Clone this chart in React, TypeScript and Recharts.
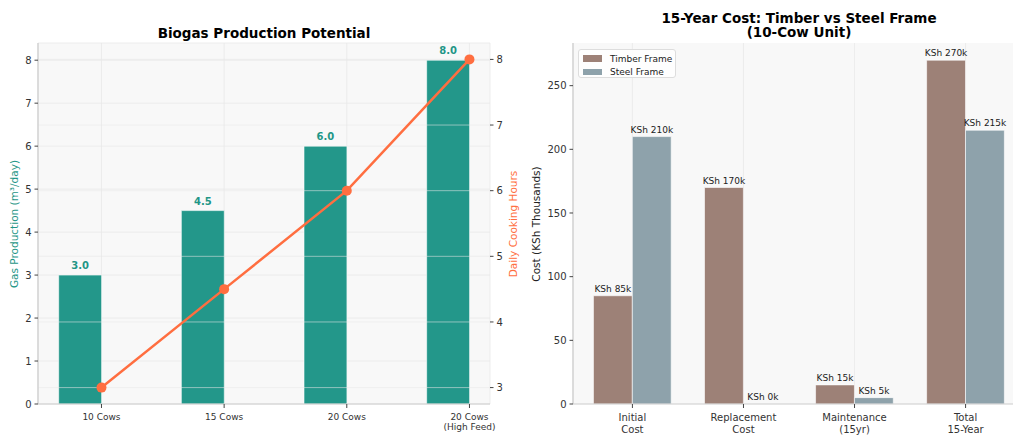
import React from "react";
import {
  ComposedChart,
  Bar,
  Line,
  XAxis,
  YAxis,
  CartesianGrid,
  ReferenceLine,
  LabelList,
} from "recharts";

// ---------- Data ----------
const herdSizes = ["10 Cows", "15 Cows", "20 Cows", "20 Cows\n(High Feed)"];
const gasProduction = [3.0, 4.5, 6.0, 8.0];
const cookingHours = [3, 4.5, 6, 8];
const gasTicks = [0, 1, 2, 3, 4, 5, 6, 7, 8];
const hourTicks = [3, 4, 5, 6, 7, 8];

const costCategories = ["Initial\nCost", "Replacement\nCost", "Maintenance\n(15yr)", "Total\n15-Year"];
const timberCost = [85, 170, 15, 270];
const steelCost = [210, 0, 5, 215];
const costTicks = [0, 50, 100, 150, 200, 250];

// ---------- Styles ----------
const FONT = "DejaVu Sans, Verdana, sans-serif";
const TEAL = "#23978a";
const TEAL_TEXT = "#1f9687";
const CORAL = "#ff6e40";
const TIMBER = "#9d8177";
const STEEL = "#8ea2ab";
const SPINE = "#cccccc";
const TICK = "#444444";
const BG = "#f8f8f8";

const BAR_FRAC = 0.35;

const leftData = herdSizes.map((c, i) => ({
  pos: i,
  barPos: i - BAR_FRAC / 2,
  gas: gasProduction[i],
  hours: cookingHours[i],
}));

const rightData = costCategories.map((c, i) => ({
  pos: i,
  timberPos: i - BAR_FRAC / 2,
  steelPos: i + BAR_FRAC / 2,
  timber: timberCost[i],
  steel: steelCost[i],
}));

const LEFT_DOMAIN: [number, number] = [-0.5175, 3.1675];
const RIGHT_DOMAIN: [number, number] = [-0.535, 3.535];
const PLOT_W = 452;
const leftBarSize = (PLOT_W / (LEFT_DOMAIN[1] - LEFT_DOMAIN[0])) * BAR_FRAC;
const rightBarSize = (PLOT_W / (RIGHT_DOMAIN[1] - RIGHT_DOMAIN[0])) * BAR_FRAC;

const MultiTick = (props: any) => {
  const { x, y, payload, labels, fontSize, lineGap } = props;
  const label: string = labels[Math.round(payload.value)] ?? "";
  const lines = label.split("\n");
  return (
    <text x={x} y={y} textAnchor="middle" fontSize={fontSize} fill="#333" fontFamily={FONT}>
      {lines.map((l, i) => (
        <tspan key={i} x={x} dy={i === 0 ? "0.75em" : lineGap}>
          {l}
        </tspan>
      ))}
    </text>
  );
};

// label centred over a bar (x, width) or over a point (x only)
const makeLabel =
  (fmt: (v: number) => string, style: React.SVGProps<SVGTextElement>, offset: number) =>
  (props: any) => {
    const { x, y, width, value } = props;
    if (value === undefined || value === null) return null;
    const cx = Number(x) + (width ? Number(width) / 2 : 0);
    return (
      <text x={cx} y={Number(y) - offset} textAnchor="middle" fontFamily={FONT} {...style}>
        {fmt(Number(value))}
      </text>
    );
  };

const gasLabel = makeLabel(
  (v) => v.toFixed(1),
  { fontSize: 10, fontWeight: "bold", fill: TEAL_TEXT },
  6
);
const costLabel = makeLabel((v) => `KSh ${v}k`, { fontSize: 9, fill: "#222" }, 4);

const tickStyle = { fontSize: 10, fill: "#333", fontFamily: FONT };

const absText = (style: React.CSSProperties): React.CSSProperties => ({
  position: "absolute",
  fontFamily: FONT,
  whiteSpace: "nowrap",
  ...style,
});

export default function App() {
  return (
    <div
      style={{
        position: "absolute",
        left: 0,
        top: 0,
        width: 1013,
        height: 435,
        overflow: "hidden",
        background: "#fff",
      }}
    >
      {/* ---------- Left chart ---------- */}
      <div style={{ position: "absolute", left: 0, top: 0 }}>
        <ComposedChart
          width={520}
          height={435}
          data={leftData}
          margin={{ top: 43, right: 0, bottom: 0, left: 0 }}
        >
          <CartesianGrid
            xAxisId="line"
            yAxisId="gas"
            fill={BG}
            stroke="#e9e9e9"
            strokeWidth={0.8}
          />
          <XAxis
            xAxisId="line"
            dataKey="pos"
            type="number"
            domain={LEFT_DOMAIN}
            allowDataOverflow
            ticks={[0, 1, 2, 3]}
            interval={0}
            height={31}
            tickSize={4}
            tickMargin={5}
            axisLine={{ stroke: SPINE, strokeWidth: 1.2 }}
            tickLine={{ stroke: TICK }}
            tick={(p: any) => (
              <MultiTick {...p} labels={herdSizes} fontSize={9} lineGap="1.15em" />
            )}
          />
          <XAxis
            xAxisId="bars"
            dataKey="barPos"
            type="number"
            domain={LEFT_DOMAIN}
            allowDataOverflow
            height={0}
            hide
          />
          <YAxis
            yAxisId="gas"
            orientation="left"
            width={38}
            domain={[0, 8.4]}
            ticks={gasTicks}
            interval={0}
            allowDataOverflow
            tickSize={3.5}
            tickMargin={3}
            axisLine={{ stroke: SPINE, strokeWidth: 1.2 }}
            tickLine={{ stroke: TICK }}
            tick={tickStyle}
          />
          <YAxis
            yAxisId="hours"
            orientation="right"
            width={30}
            domain={[2.75, 8.25]}
            ticks={hourTicks}
            interval={0}
            allowDataOverflow
            tickSize={3.5}
            tickMargin={3}
            axisLine={false}
            tickLine={{ stroke: TICK }}
            tick={tickStyle}
          />
          <Bar
            xAxisId="bars"
            yAxisId="gas"
            dataKey="gas"
            fill={TEAL}
            stroke="#ffffff"
            strokeWidth={0.6}
            barSize={leftBarSize}
            isAnimationActive={false}
          >
            <LabelList dataKey="gas" content={gasLabel} />
          </Bar>
          {hourTicks.map((t) => (
            <ReferenceLine
              key={t}
              xAxisId="line"
              yAxisId="hours"
              y={t}
              stroke="rgba(232,232,232,0.55)"
              strokeWidth={1}
            />
          ))}
          <Line
            xAxisId="line"
            yAxisId="hours"
            dataKey="hours"
            type="linear"
            stroke={CORAL}
            strokeWidth={2.5}
            dot={{ r: 5, fill: CORAL, stroke: CORAL, strokeWidth: 0 }}
            activeDot={false}
            isAnimationActive={false}
          />
        </ComposedChart>
      </div>

      <div
        style={absText({
          left: 38,
          width: 452,
          top: 25,
          textAlign: "center",
          fontSize: 13.5,
          fontWeight: "bold",
          color: "#000",
        })}
      >
        Biogas Production Potential
      </div>
      <div
        style={absText({
          left: 14,
          top: 224,
          fontSize: 10.5,
          color: TEAL_TEXT,
          transform: "translate(-50%, -50%) rotate(-90deg)",
        })}
      >
        Gas Production (m³/day)
      </div>
      <div
        style={absText({
          left: 513,
          top: 224,
          fontSize: 10.5,
          color: CORAL,
          transform: "translate(-50%, -50%) rotate(-90deg)",
        })}
      >
        Daily Cooking Hours
      </div>

      {/* ---------- Right chart ---------- */}
      <div style={{ position: "absolute", left: 520, top: 0 }}>
        <ComposedChart
          width={520}
          height={435}
          data={rightData}
          margin={{ top: 43, right: 15, bottom: 0, left: 0 }}
        >
          <CartesianGrid
            xAxisId="cat"
            yAxisId="cost"
            fill={BG}
            stroke="#e9e9e9"
            strokeWidth={0.8}
            horizontal={false}
          />
          <XAxis
            xAxisId="cat"
            dataKey="pos"
            type="number"
            domain={RIGHT_DOMAIN}
            allowDataOverflow
            ticks={[0, 1, 2, 3]}
            interval={0}
            height={31}
            tickSize={4}
            tickMargin={5}
            axisLine={{ stroke: SPINE, strokeWidth: 1.2 }}
            tickLine={{ stroke: TICK }}
            tick={(p: any) => (
              <MultiTick {...p} labels={costCategories} fontSize={10} lineGap="1.2em" />
            )}
          />
          <XAxis
            xAxisId="timber"
            dataKey="timberPos"
            type="number"
            domain={RIGHT_DOMAIN}
            allowDataOverflow
            height={0}
            hide
          />
          <XAxis
            xAxisId="steel"
            dataKey="steelPos"
            type="number"
            domain={RIGHT_DOMAIN}
            allowDataOverflow
            height={0}
            hide
          />
          <YAxis
            yAxisId="cost"
            width={53}
            domain={[0, 283.5]}
            ticks={costTicks}
            interval={0}
            allowDataOverflow
            tickSize={3.5}
            tickMargin={3}
            axisLine={{ stroke: SPINE, strokeWidth: 1.2 }}
            tickLine={{ stroke: TICK }}
            tick={tickStyle}
          />
          <Bar
            xAxisId="timber"
            yAxisId="cost"
            dataKey="timber"
            fill={TIMBER}
            stroke="#ffffff"
            strokeWidth={0.6}
            barSize={rightBarSize}
            isAnimationActive={false}
          >
            <LabelList dataKey="timber" content={costLabel} />
          </Bar>
          <Bar
            xAxisId="steel"
            yAxisId="cost"
            dataKey="steel"
            fill={STEEL}
            stroke="#ffffff"
            strokeWidth={0.6}
            barSize={rightBarSize}
            isAnimationActive={false}
          />
          {/* invisible carrier for steel value labels (includes the zero-height bar) */}
          <Line
            xAxisId="steel"
            yAxisId="cost"
            dataKey="steel"
            stroke="none"
            dot={false}
            activeDot={false}
            legendType="none"
            isAnimationActive={false}
          >
            <LabelList dataKey="steel" content={costLabel} />
          </Line>
        </ComposedChart>
      </div>

      <div
        style={absText({
          left: 573,
          width: 452,
          top: 11,
          textAlign: "center",
          fontSize: 13.5,
          fontWeight: "bold",
          lineHeight: "14px",
          color: "#000",
        })}
      >
        15-Year Cost: Timber vs Steel Frame
        <br />
        (10-Cow Unit)
      </div>
      <div
        style={absText({
          left: 536,
          top: 224,
          fontSize: 10.5,
          color: "#222",
          transform: "translate(-50%, -50%) rotate(-90deg)",
        })}
      >
        Cost (KSh Thousands)
      </div>

      {/* Legend */}
      <div
        style={{
          position: "absolute",
          left: 578,
          top: 49,
          width: 98,
          height: 29,
          border: "1px solid #dddddd",
          borderRadius: 3,
          background: "rgba(255,255,255,0.85)",
          boxSizing: "border-box",
          fontFamily: FONT,
          fontSize: 9,
          color: "#222",
        }}
      >
        {[
          { name: "Timber Frame", color: TIMBER },
          { name: "Steel Frame", color: STEEL },
        ].map((e, i) => (
          <div
            key={e.name}
            style={{
              position: "absolute",
              left: 4,
              top: 3 + i * 13.5,
              height: 11,
              display: "flex",
              alignItems: "center",
              whiteSpace: "nowrap",
            }}
          >
            <span
              style={{
                display: "inline-block",
                width: 19,
                height: 6.5,
                background: e.color,
                marginRight: 8,
              }}
            />
            {e.name}
          </div>
        ))}
      </div>
    </div>
  );
}
